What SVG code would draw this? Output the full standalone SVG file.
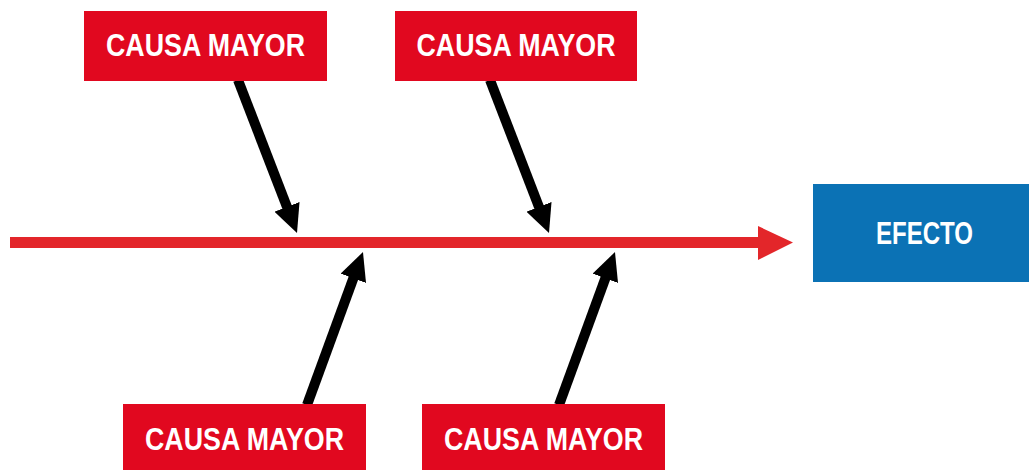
<svg xmlns="http://www.w3.org/2000/svg" width="1029" height="470" viewBox="0 0 1029 470">
<style>
.cause{fill:#e1081f}
.effect{fill:#0b72b5}
.lbl{font-family:"Liberation Sans",Arial,sans-serif;font-weight:bold;font-size:32px;fill:#ffffff;text-anchor:middle}
.bone{stroke:#000000;stroke-width:10;fill:none;marker-end:url(#ah)}
</style>
<defs>
<marker id="ah" markerUnits="userSpaceOnUse" markerWidth="28" markerHeight="27" viewBox="0 0 28 27" refX="8" refY="13.5" orient="auto">
<path d="M0,0 L28,13.5 L0,27 z" fill="#000000"/>
</marker>
</defs>
<rect width="1029" height="470" fill="#ffffff"/>
<g id="connectors">
<rect x="10" y="237" width="750" height="11" fill="#e3262a"/>
<polygon points="758,226 793,242.5 758,260" fill="#e3262a"/>
<line class="bone" x1="238" y1="80" x2="289.8" y2="214.3"/>
<line class="bone" x1="490" y1="80" x2="541.8" y2="214.3"/>
<line class="bone" x1="307" y1="405" x2="356.1" y2="270.8"/>
<line class="bone" x1="559" y1="405" x2="608.1" y2="270.8"/>
</g>
<g id="cause1">
<rect class="cause" x="84" y="11" width="243" height="70"/>
<text class="lbl" x="205.5" y="55.5" textLength="199" lengthAdjust="spacingAndGlyphs">CAUSA MAYOR</text>
</g>
<g id="cause2">
<rect class="cause" x="395" y="11" width="242" height="70"/>
<text class="lbl" x="516" y="55.5" textLength="199" lengthAdjust="spacingAndGlyphs">CAUSA MAYOR</text>
</g>
<g id="cause3">
<rect class="cause" x="123" y="404" width="243" height="66"/>
<text class="lbl" x="244.5" y="449.5" textLength="199" lengthAdjust="spacingAndGlyphs">CAUSA MAYOR</text>
</g>
<g id="cause4">
<rect class="cause" x="422" y="404" width="243" height="66"/>
<text class="lbl" x="543.5" y="449.5" textLength="199" lengthAdjust="spacingAndGlyphs">CAUSA MAYOR</text>
</g>
<g id="effect">
<rect class="effect" x="813" y="184" width="216" height="98"/>
<text class="lbl" x="924.5" y="243.5" textLength="97" lengthAdjust="spacingAndGlyphs">EFECTO</text>
</g>
</svg>
